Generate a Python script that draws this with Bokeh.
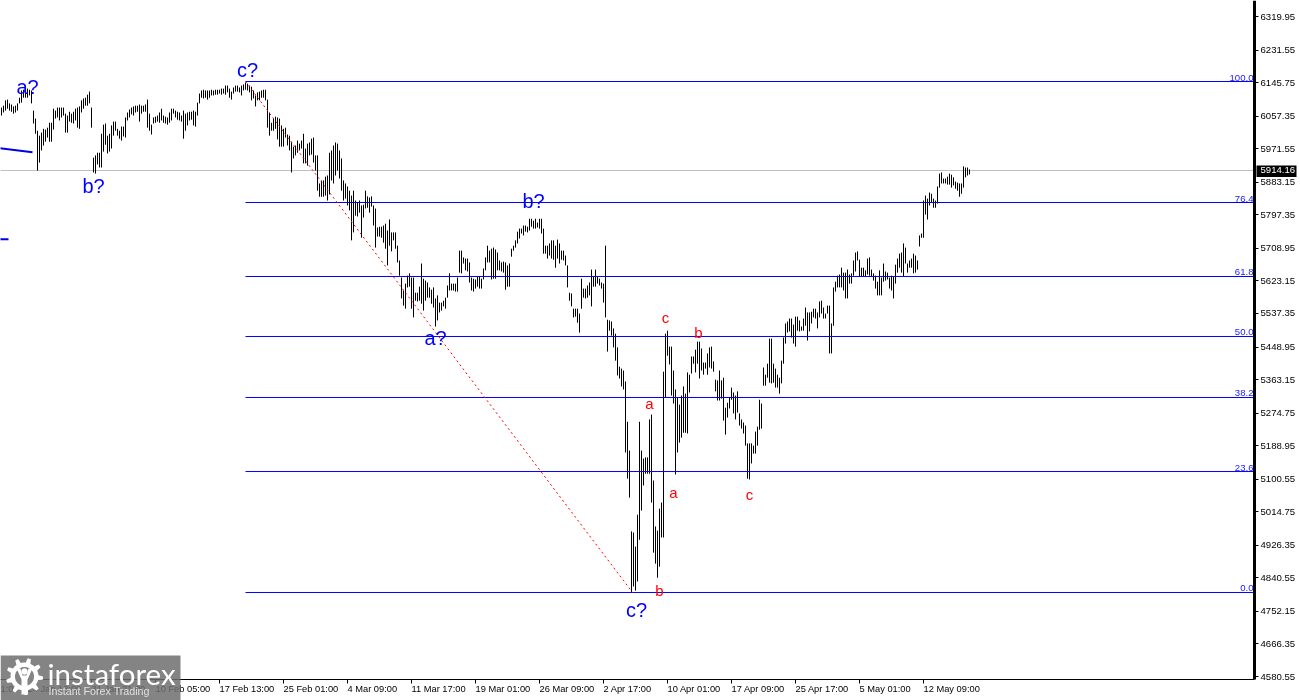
import math
from bokeh.embed import file_html
from bokeh.resources import INLINE
from bokeh.plotting import figure
from bokeh.models import (Range1d, LinearAxis, FixedTicker, NumeralTickFormatter, Label, PolyAnnotation,
                          ColumnDataSource)

highs = [
6080,6085,6099,6101,6091,6088,6083,6085,6091,6106,
6125,6127,6125,6130,6127,6125,6072,6051,6019,6006,
6014,6024,6022,6027,6040,6040,6077,6072,6080,6080,
6080,6080,6064,6059,6069,6064,6069,6077,6080,6083,
6099,6104,6106,6114,6122,6080,5948,5954,5961,5961,
6011,6035,6038,6006,6011,6033,6043,6043,6024,6019,
6030,6030,6054,6067,6075,6080,6083,6085,6085,6088,
6085,6085,6088,6101,6064,6035,6054,6056,6059,6067,
6077,6059,6056,6054,6067,6077,6077,6072,6069,6067,
6059,6072,6064,6067,6069,6069,6072,6069,6093,6117,
6125,6127,6125,6125,6125,6127,6125,6127,6127,6127,
6130,6130,6138,6138,6130,6122,6133,6138,6138,6133,
6138,6141,6146,6143,6138,6135,6125,6112,6120,6122,
6125,6127,6127,6101,6067,6040,6051,6056,6054,6051,
6033,6024,6027,6009,6006,5990,5977,5980,5993,5985,
5993,6011,5972,5985,5988,5998,6001,5954,5954,5880,
5888,5888,5898,5901,5961,5967,5980,5988,5985,5967,
5946,5888,5880,5872,5861,5848,5861,5835,5830,5835,
5822,5824,5861,5846,5843,5846,5822,5814,5764,5766,
5766,5769,5774,5756,5785,5751,5751,5751,5716,5677,
5632,5598,5616,5637,5643,5632,5632,5592,5592,5608,
5669,5629,5624,5619,5606,5600,5606,5577,5585,5566,
5566,5571,5579,5611,5643,5616,5616,5616,5632,5703,
5703,5685,5682,5682,5672,5632,5629,5627,5635,5635,
5629,5656,5685,5716,5703,5708,5711,5706,5698,5677,
5672,5674,5672,5664,5669,5708,5716,5730,5753,5761,
5761,5769,5769,5766,5787,5787,5782,5787,5777,5787,
5787,5761,5716,5716,5722,5730,5730,5716,5732,5722,
5703,5703,5690,5664,5592,5590,5550,5550,5550,5537,
5629,5603,5603,5611,5619,5653,5635,5653,5635,5629,
5619,5616,5716,5521,5519,5516,5498,5484,5448,5397,
5392,5387,5358,5252,5176,4963,4960,4923,5007,5252,
5176,5155,5158,5158,5258,5271,5097,4976,4965,5023,
5039,5384,5484,5492,5450,5450,5387,5337,5316,5297,
5321,5345,5326,5382,5376,5424,5424,5442,5463,5463,
5445,5408,5408,5432,5448,5450,5411,5363,5361,5387,
5361,5368,5289,5302,5316,5342,5329,5321,5332,5274,
5258,5250,5242,5195,5195,5195,5189,5226,5239,5310,
5300,5395,5376,5405,5471,5471,5405,5392,5376,5368,
5413,5474,5511,5516,5524,5524,5508,5529,5529,5519,
5503,5524,5553,5540,5540,5542,5550,5550,5540,5569,
5571,5553,5537,5558,5558,5511,5606,5621,5637,5640,
5658,5645,5645,5653,5640,5643,5677,5698,5701,5679,
5658,5658,5651,5682,5685,5653,5643,5637,5621,5651,
5632,5669,5648,5645,5632,5637,5635,5666,5682,5695,
5698,5722,5711,5669,5677,5682,5695,5690,5677,5743,
5748,5835,5848,5840,5856,5853,5840,5835,5872,5906,
5909,5893,5893,5898,5906,5903,5896,5885,5882,5880,
5880,5925,5922,5922,5917,
]
lows = [
6059,6067,6072,6077,6072,6069,6064,6067,6072,6091,
6093,6106,6106,6106,6112,6091,6038,6011,5914,5935,
5967,5980,5990,6001,5990,5990,6022,6051,6054,6046,
6054,6059,6014,6014,6043,6040,6038,6046,6027,6024,
6067,6077,6085,6085,6091,6027,5909,5906,5930,5922,
5922,5964,5982,5959,5964,5972,6006,6019,6006,5998,
5993,6004,6001,6046,6054,6062,6059,6067,6069,6043,
6064,6069,6069,6027,6019,6009,6038,6040,6043,6040,
6046,6040,6038,6035,6040,6046,6064,6054,6048,6046,
6043,5998,6019,6033,6046,6048,6033,6030,6059,6091,
6106,6104,6106,6101,6106,6112,6112,6114,6114,6117,
6114,6117,6114,6120,6106,6101,6117,6122,6122,6120,
6112,6125,6127,6125,6120,6099,6104,6083,6099,6099,
6106,6106,6099,6027,6006,6019,6019,6024,5996,5977,
5977,5977,6001,5980,5967,5909,5946,5954,5961,5967,
5972,5933,5933,5927,5954,5956,5935,5914,5861,5845,
5845,5845,5848,5835,5851,5888,5880,5901,5914,5893,
5861,5835,5840,5822,5809,5730,5751,5795,5793,5803,
5737,5790,5814,5816,5803,5819,5769,5711,5740,5740,
5737,5724,5708,5664,5716,5701,5730,5708,5672,5637,
5577,5558,5550,5606,5608,5550,5527,5571,5569,5571,
5563,5545,5571,5579,5579,5563,5553,5503,5519,5540,
5545,5556,5550,5579,5598,5598,5598,5595,5595,5645,
5643,5669,5651,5648,5619,5598,5595,5603,5608,5603,
5603,5627,5651,5672,5672,5627,5629,5629,5651,5651,
5648,5645,5600,5608,5608,5687,5703,5711,5722,5735,
5748,5743,5753,5751,5756,5766,5761,5761,5764,5761,
5748,5695,5695,5682,5690,5682,5679,5658,5682,5669,
5679,5677,5664,5606,5571,5556,5527,5529,5513,5487,
5550,5579,5577,5579,5585,5556,5608,5608,5616,5611,
5603,5566,5527,5437,5492,5479,5448,5413,5374,5366,
5345,5337,5171,5102,5052,4802,4818,4807,4831,4941,
5018,5084,5115,5115,5115,5039,4907,4878,4841,4870,
4947,4947,5316,5426,5403,5321,5300,5113,5171,5197,
5210,5223,5223,5221,5329,5379,5405,5382,5405,5366,
5387,5376,5392,5376,5395,5392,5384,5332,5308,5308,
5313,5255,5218,5263,5287,5310,5274,5258,5276,5242,
5234,5221,5189,5102,5100,5142,5168,5168,5189,5231,
5234,5347,5347,5368,5355,5353,5355,5342,5342,5326,
5353,5405,5458,5487,5490,5474,5458,5450,5492,5490,
5492,5492,5505,5466,5490,5511,5527,5524,5498,5527,
5537,5524,5524,5537,5432,5432,5505,5595,5606,5606,
5606,5598,5577,5577,5616,5616,5637,5648,5677,5635,
5635,5635,5635,5640,5637,5635,5624,5603,5585,5585,
5585,5621,5624,5627,5603,5598,5577,5616,5645,5658,
5645,5635,5669,5645,5658,5658,5643,5645,5653,5714,
5737,5737,5798,5785,5822,5830,5816,5816,5827,5869,
5880,5880,5880,5877,5877,5869,5875,5866,5861,5845,
5853,5869,5896,5901,5904,
]
y_ticks = [6319.95,6231.55,6145.75,6057.35,5971.55,5883.15,5797.35,5708.95,5623.15,5537.35,5448.95,
           5363.15,5274.75,5188.95,5100.55,5014.75,4926.35,4840.55,4752.15,4666.35,4580.55]
x_tick_bars = [13,45,77,109,141,173,205,237,269,301,333,365,397,429,461]
x_tick_labels = ["24 Jan 13:00","31 Jan 21:00","10 Feb 05:00","17 Feb 13:00","25 Feb 01:00",
                 "4 Mar 09:00","11 Mar 17:00","19 Mar 01:00","26 Mar 09:00","2 Apr 17:00","10 Apr 01:00",
                 "17 Apr 09:00","25 Apr 17:00","5 May 01:00","12 May 09:00"]
fib_names = ["100.0","76.4","61.8","50.0","38.2","23.6","0.0"]
fib_prices = [6148.7,5829.8,5634.8,5476.7,5315.9,5120.8,4802.0]
last_price = 5914.16
wave_blue = ["a?","b?","c?","a?","b?","c?"]
wave_blue_bar = [13,46,123,217,266,317.5]
wave_blue_price = [6134,5873,6178,5474,5833,4755]
wave_red = ["a","c","b","a","c","b"]
wave_red_bar = [324,332,348.5,336,374,329]
wave_red_price = [5301,5528,5486,5066,5060,4807]
trend_bars = [122,315.5]
trend_prices = [6148.7,4802.0]
stray_a_bars = [-1,15.5]
stray_a_prices = [5973,5962]
stray_b_bars = [-1,3.5]
stray_b_prices = [5733,5733]

PX = 2.6355
top_price = 6362.19
W, H = 1254, 679
CW, CH = 1300, 700
x0 = -0.5
xr = Range1d(x0, x0 + CW / 2)
yr = Range1d(top_price - CH * PX, top_price)

def dx(px):
    return x0 + px / 2
def dy(py):
    return top_price - py * PX

p = figure(width=CW, height=CH, x_range=xr, y_range=yr,
           output_backend="svg", toolbar_location=None, x_axis_location=None, y_axis_location=None,
           min_border_left=0, min_border_top=0, min_border_right=0, min_border_bottom=0,
           styles={"position": "fixed", "left": "0px", "top": "0px"})
p.background_fill_color = "white"
p.border_fill_color = "white"
p.outline_line_color = None
p.grid.visible = False

FONT = "Liberation Sans"
TICK_SIZE = "9.6px"
ya = LinearAxis(ticker=FixedTicker(ticks=y_ticks), formatter=NumeralTickFormatter(format="0.00"),
                fixed_location=dx(W), bounds=(dy(H), dy(0)))
ya.axis_line_color = "black"; ya.axis_line_width = 3
ya.major_tick_line_color = "black"; ya.major_tick_out = 4; ya.major_tick_in = 0
ya.minor_tick_line_color = None
ya.major_label_text_font = FONT; ya.major_label_text_font_size = TICK_SIZE; ya.major_label_text_color = "black"
ya.major_label_standoff = 2
p.add_layout(ya, "right")

xa = LinearAxis(ticker=FixedTicker(ticks=x_tick_bars), fixed_location=dy(H), bounds=(dx(0), dx(W)))
xa.axis_line_color = "black"; xa.axis_line_width = 1
xa.major_tick_line_color = "black"; xa.major_tick_out = 4; xa.major_tick_in = 0
xa.minor_tick_line_color = None
xa.major_label_text_font_size = "0px"
xa.major_label_text_color = None
xa.major_label_standoff = 0
p.add_layout(xa, "below")

p.segment(x0=[dx(0)], x1=[dx(W)], y0=[last_price], y1=[last_price], line_color="#c0c0c0", line_width=1)

src = ColumnDataSource(dict(x=list(range(len(highs))), h=highs, l=lows))
p.segment(x0="x", x1="x", y0="l", y1="h", source=src, line_color="black", line_width=1)

p.segment(x0=[dx(245)] * len(fib_prices), x1=[dx(1253)] * len(fib_prices), y0=fib_prices, y1=fib_prices,
          line_color="#0000ff", line_width=1)
for n, v in zip(fib_names, fib_prices):
    p.add_layout(Label(x=dx(1253), y=v, text=n, text_align="right", text_baseline="bottom", y_offset=1,
                       text_font=FONT, text_font_size=TICK_SIZE, text_color="#2020ff"))

p.line(trend_bars, trend_prices, line_color="red", line_width=1, line_dash="2 3")
p.line(stray_a_bars, stray_a_prices, line_color="#0000e0", line_width=2)
p.line(stray_b_bars, stray_b_prices, line_color="#0000e0", line_width=2)

for t, b, v in zip(wave_blue, wave_blue_bar, wave_blue_price):
    p.add_layout(Label(x=b, y=v, text=t, text_align="center", text_baseline="middle",
                       text_font=FONT, text_font_size="20px", text_color="#0000ff"))
for t, b, v in zip(wave_red, wave_red_bar, wave_red_price):
    p.add_layout(Label(x=b, y=v, text=t, text_align="center", text_baseline="middle",
                       text_font=FONT, text_font_size="15px", text_color="#ff0000"))

p.add_layout(Label(x=dx(0), y=dy(688.5), text="1:00", text_align="left", text_baseline="middle",
                   text_font=FONT, text_font_size="9.3px", text_color="black"))
for b, t in zip(x_tick_bars, x_tick_labels):
    p.add_layout(Label(x=b, y=dy(688.5), x_offset=0, text=t, text_align="left", text_baseline="middle",
                       text_font=FONT, text_font_size="9.3px", text_color="black"))

p.add_layout(PolyAnnotation(xs=[dx(1256), dx(1296), dx(1296), dx(1256)],
                            ys=[dy(165), dy(165), dy(176.5), dy(176.5)],
                            fill_color="black", fill_alpha=1, line_color="black", line_alpha=0))
p.add_layout(Label(x=dx(1260), y=last_price, text="5914.16", text_align="left", text_baseline="middle",
                   text_font=FONT, text_font_size=TICK_SIZE, text_color="white"))

p.add_layout(PolyAnnotation(xs=[dx(0), dx(180), dx(180), dx(0)], ys=[dy(655), dy(655), dy(700), dy(700)],
                            fill_color="#6e6e6e", fill_alpha=0.85, line_color=None, line_alpha=0))
def circle_poly(cx, cy, r, n=48):
    return ([dx(cx + r * math.cos(2 * math.pi * i / n)) for i in range(n)],
            [dy(cy + r * math.sin(2 * math.pi * i / n)) for i in range(n)])
gx, gy = [], []
teeth = 9
for i in range(teeth * 8):
    a = 2 * math.pi * i / (teeth * 8)
    r = 18.5 if (i % 8) in (0, 1, 2) else 14
    gx.append(dx(24 + r * math.cos(a)))
    gy.append(dy(676 + r * math.sin(a)))
p.add_layout(PolyAnnotation(xs=gx, ys=gy, fill_color="white", fill_alpha=1, line_color=None, line_alpha=0))
cx, cy = circle_poly(24, 676, 9.5)
p.add_layout(PolyAnnotation(xs=cx, ys=cy, fill_color="#848484", fill_alpha=1, line_color=None, line_alpha=0))
cx, cy = circle_poly(24, 671, 3.2)
p.add_layout(PolyAnnotation(xs=cx, ys=cy, fill_color="white", fill_alpha=1, line_color=None, line_alpha=0))
p.add_layout(PolyAnnotation(xs=[dx(16), dx(20), dx(22), dx(22), dx(26), dx(26), dx(28), dx(32), dx(27), dx(27), dx(21), dx(21)],
                            ys=[dy(668), dy(668), dy(675), dy(675), dy(675), dy(675), dy(668), dy(668), dy(679), dy(694), dy(694), dy(679)],
                            fill_color="white", fill_alpha=1, line_color=None, line_alpha=0))
p.add_layout(Label(x=dx(47), y=dy(673), text="instaforex", text_align="left", text_baseline="middle",
                   text_font="Lato", text_font_size="29.5px", text_color="white"))
p.add_layout(Label(x=dx(48), y=dy(690.5), text="Instant Forex Trading", text_align="left", text_baseline="middle",
                   text_font=FONT, text_font_size="10.7px", text_color="#e0e0e0"))

open("out.html", "w").write(file_html(p, INLINE))
